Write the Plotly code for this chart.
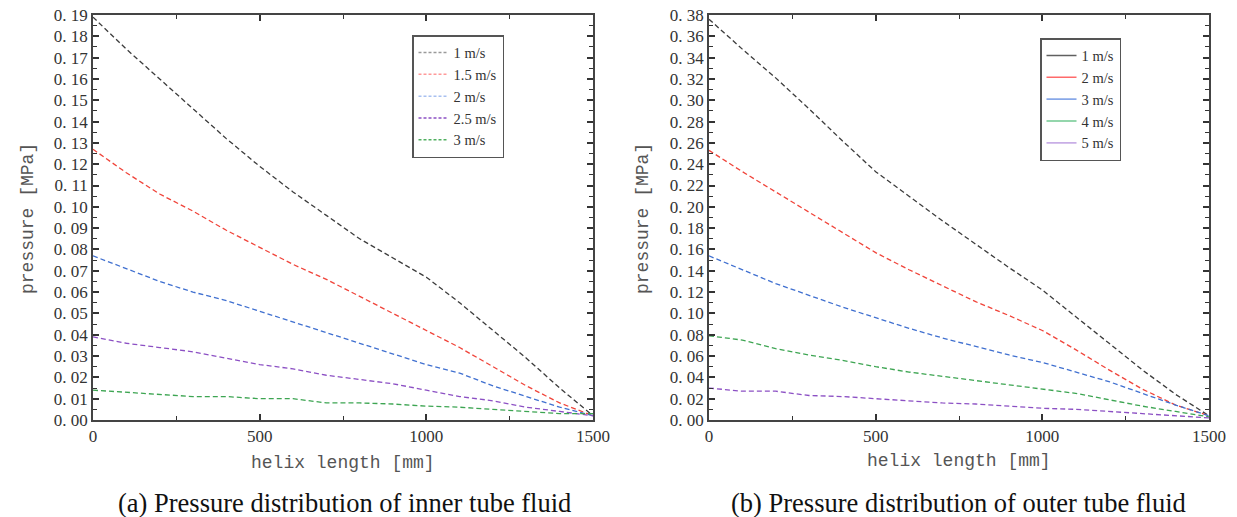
import plotly.graph_objects as go

length_mm = [0, 100, 200, 300, 400, 500, 600, 700, 800, 900, 1000, 1100, 1200, 1300, 1400, 1500]

inner_labels = ["1 m/s", "1.5 m/s", "2 m/s", "2.5 m/s", "3 m/s"]
inner_1 = [0.189, 0.174, 0.160, 0.146, 0.132, 0.119, 0.107, 0.096, 0.085, 0.076, 0.067, 0.055, 0.042, 0.029, 0.015, 0.002]
inner_15 = [0.127, 0.116, 0.106, 0.098, 0.089, 0.081, 0.073, 0.066, 0.058, 0.050, 0.042, 0.034, 0.025, 0.016, 0.008, 0.002]
inner_2 = [0.077, 0.071, 0.065, 0.060, 0.056, 0.051, 0.046, 0.041, 0.036, 0.031, 0.026, 0.022, 0.016, 0.011, 0.006, 0.002]
inner_25 = [0.039, 0.036, 0.034, 0.032, 0.029, 0.026, 0.024, 0.021, 0.019, 0.017, 0.014, 0.011, 0.009, 0.006, 0.004, 0.002]
inner_3 = [0.014, 0.013, 0.012, 0.011, 0.011, 0.010, 0.010, 0.008, 0.008, 0.0075, 0.0065, 0.006, 0.005, 0.004, 0.003, 0.003]

outer_labels = ["1 m/s", "2 m/s", "3 m/s", "4 m/s", "5 m/s"]
outer_1 = [0.376, 0.348, 0.321, 0.292, 0.262, 0.233, 0.210, 0.187, 0.165, 0.143, 0.122, 0.097, 0.072, 0.047, 0.024, 0.004]
outer_2 = [0.253, 0.233, 0.214, 0.195, 0.176, 0.157, 0.141, 0.126, 0.111, 0.098, 0.084, 0.066, 0.047, 0.029, 0.014, 0.004]
outer_3 = [0.154, 0.141, 0.128, 0.117, 0.106, 0.096, 0.086, 0.077, 0.069, 0.061, 0.054, 0.045, 0.036, 0.025, 0.014, 0.004]
outer_4 = [0.079, 0.075, 0.067, 0.061, 0.056, 0.050, 0.045, 0.041, 0.037, 0.033, 0.029, 0.025, 0.019, 0.013, 0.008, 0.003]
outer_5 = [0.030, 0.027, 0.027, 0.023, 0.022, 0.020, 0.018, 0.016, 0.015, 0.013, 0.011, 0.010, 0.008, 0.006, 0.004, 0.002]

inner_ticks = [i / 100 for i in range(0, 20)]
outer_ticks = [i / 50 for i in range(0, 20)]
x_ticks = [0, 500, 1000, 1500]

line_colors = ["#3c3c3c", "#f0443a", "#4070d0", "#8c50c4", "#3da552"]
inner_legend_colors = ["#9a9a9a", "#ff9a9a", "#a8c0f0", "#8c50c4", "#50b060"]
outer_legend_colors = ["#606060", "#ff6a6a", "#88a8e8", "#70c890", "#c8aee6"]

W, H = 1237, 517

def px(X):
    return X / W

def py(Y):
    return 1 - Y / H

fig = go.Figure()

inner_series = [inner_1, inner_15, inner_2, inner_25, inner_3]
outer_series = [outer_1, outer_2, outer_3, outer_4, outer_5]

for vals, col in zip(inner_series, line_colors):
    fig.add_trace(go.Scatter(x=length_mm, y=vals, mode="lines", xaxis="x", yaxis="y",
                             line=dict(color=col, width=1.3, dash="5px,3px"), showlegend=False))
for name, col in zip(inner_labels, inner_legend_colors):
    fig.add_trace(go.Scatter(x=[None], y=[None], mode="lines", name=name, xaxis="x", yaxis="y",
                             line=dict(color=col, width=1.5, dash="3px,2px"), legend="legend"))

outer_cols = [line_colors[0], line_colors[1], line_colors[2], line_colors[4], line_colors[3]]
for vals, col in zip(outer_series, outer_cols):
    fig.add_trace(go.Scatter(x=length_mm, y=vals, mode="lines", xaxis="x2", yaxis="y2",
                             line=dict(color=col, width=1.3, dash="5px,3px"), showlegend=False))
for name, col in zip(outer_labels, outer_legend_colors):
    fig.add_trace(go.Scatter(x=[None], y=[None], mode="lines", name=name, xaxis="x2", yaxis="y2",
                             line=dict(color=col, width=1.6), legend="legend2"))

tick_font = dict(family="Liberation Serif", size=17, color="#333")
axis_common = dict(showline=True, linecolor="#444", linewidth=1.5, mirror="ticks",
                   ticks="inside", ticklen=6, tickwidth=1.5, tickcolor="#333",
                   showgrid=False, zeroline=False, tickfont=tick_font, automargin=False)

def fmt(v):
    s = f"{v:.2f}"
    return s.replace(".", ". ")

y_dom = [py(420), py(15)]
minor_x = dict(ticks="inside", dtick=250, ticklen=4, tickwidth=1.2, tickcolor="#333")
legend_font = dict(family="Liberation Serif", size=14.5, color="#333")
fig.update_layout(
    width=W, height=H, margin=dict(l=0, r=0, t=0, b=0),
    paper_bgcolor="white", plot_bgcolor="white",
    xaxis=dict(domain=[px(93), px(593)], range=[0, 1500], tickvals=x_ticks,
               minor=minor_x, **axis_common),
    yaxis=dict(domain=y_dom, range=[0, 0.19], tickvals=inner_ticks,
               ticktext=[fmt(v) for v in inner_ticks], anchor="x",
               minor=dict(ticks="inside", dtick=0.005, ticklen=4, tickwidth=1.2, tickcolor="#333"),
               **axis_common),
    xaxis2=dict(domain=[px(709), px(1209)], range=[0, 1500], tickvals=x_ticks, anchor="y2",
                minor=minor_x, **axis_common),
    yaxis2=dict(domain=y_dom, range=[0, 0.38], tickvals=outer_ticks,
                ticktext=[fmt(v) for v in outer_ticks], anchor="x2",
                minor=dict(ticks="inside", dtick=0.01, ticklen=4, tickwidth=1.2, tickcolor="#333"),
                **axis_common),
    legend=dict(x=px(412), y=py(35), xanchor="left", yanchor="top",
                bordercolor="#555", borderwidth=1.5, bgcolor="white",
                font=legend_font, tracegroupgap=0, itemwidth=30),
    legend2=dict(x=px(1040), y=py(38), xanchor="left", yanchor="top",
                 bordercolor="#555", borderwidth=1.5, bgcolor="white",
                 font=legend_font, tracegroupgap=0, itemwidth=30),
)

ann_font = dict(family="Liberation Mono", size=18, color="#555")
cap_font = dict(family="Liberation Serif", size=26.5, color="#111")
annotations = [
    dict(text="helix length [mm]", x=px(343), y=py(463), font=ann_font),
    dict(text="helix length [mm]", x=px(959), y=py(461), font=ann_font),
    dict(text="pressure [MPa]", x=px(28), y=py(219), textangle=-90, font=ann_font),
    dict(text="pressure [MPa]", x=px(643), y=py(219), textangle=-90, font=ann_font),
    dict(text="(a) Pressure distribution of inner tube fluid", x=px(344), y=py(503), font=cap_font),
    dict(text="(b) Pressure distribution of outer tube fluid", x=px(958), y=py(503), font=cap_font),
]
for a in annotations:
    fig.add_annotation(xref="paper", yref="paper", showarrow=False, xanchor="center", yanchor="middle", **a)

fig.write_html("out.html")
